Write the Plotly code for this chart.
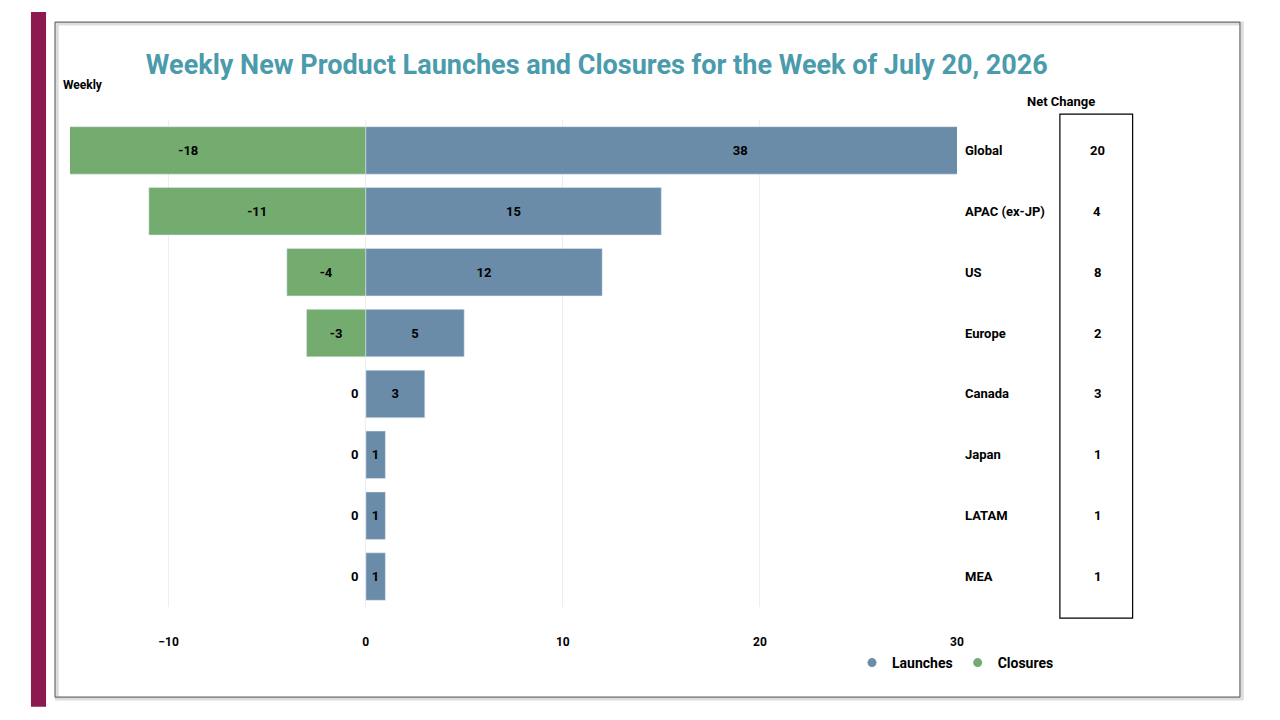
import plotly.graph_objects as go

regions = ["Global", "APAC (ex-JP)", "US", "Europe", "Canada", "Japan", "LATAM", "MEA"]
launches = [38, 15, 12, 5, 3, 1, 1, 1]
closures = [-18, -11, -4, -3, 0, 0, 0, 0]
net_change = [20, 4, 8, 2, 3, 1, 1, 1]

font = "Roboto"
blue, green = "#6b8ca8", "#74ac70"
fig = go.Figure()
fig.add_trace(go.Bar(y=regions, x=launches, orientation="h", name="Launches", showlegend=False,
                     marker_color=blue, text=[str(v) for v in launches],
                     textposition="inside", insidetextanchor="middle",
                     textfont=dict(color="black", size=13, family=font, weight="bold"), width=0.78))
fig.add_trace(go.Bar(y=regions, x=closures, orientation="h", name="Closures", showlegend=False,
                     marker_color=green, text=[str(v) if v else "" for v in closures],
                     textposition="inside", insidetextanchor="middle",
                     textfont=dict(color="black", size=13, family=font, weight="bold"), width=0.78))
# legend entries with round markers
for name, col in [("Launches", blue), ("Closures", green)]:
    fig.add_trace(go.Scatter(x=[None], y=[None], mode="markers", name="<b>%s</b>" % name,
                             marker=dict(color=col, size=9, symbol="circle")))

for r, c in zip(regions, closures):
    if c == 0:
        fig.add_annotation(x=0, y=r, text="<b>0</b>", showarrow=False, xanchor="right",
                           xshift=-6, font=dict(size=13, color="black", family=font))
for r, n in zip(regions, net_change):
    fig.add_annotation(x=1.0068, xref="paper", y=r, text="<b>%s</b>" % r, showarrow=False,
                       xanchor="left", font=dict(size=13, color="black", family=font))
    fig.add_annotation(x=1.158, xref="paper", y=r, text="<b>%d</b>" % n, showarrow=False,
                       xanchor="center", font=dict(size=13, color="black", family=font))

fig.add_annotation(x=1.158, y=1.058, xref="paper", yref="paper", text="<b>Net Change</b>",
                   showarrow=False, font=dict(size=13, color="black", family=font))
fig.add_annotation(x=-0.01, y=1.091, xref="paper", yref="paper", text="<b>Weekly</b>",
                   showarrow=False, xanchor="left", font=dict(size=12, color="black", family=font))

# frame, net-change box, purple side bar
fig.add_shape(type="rect", xref="paper", yref="paper", x0=-0.0149, x1=1.321, y0=-0.188, y1=1.198,
              line=dict(color="#dddddd", width=4), layer="below")
fig.add_shape(type="rect", xref="paper", yref="paper", x0=-0.0169, x1=1.319, y0=-0.185, y1=1.201,
              line=dict(color="#555555", width=1))
fig.add_shape(type="rect", xref="paper", yref="paper", x0=1.116, x1=1.198, y0=-0.023, y1=1.012,
              line=dict(color="black", width=1.2))
fig.add_shape(type="rect", xref="paper", yref="paper", x0=-0.044, x1=-0.027, y0=-0.205, y1=1.222,
              line_width=0, fillcolor="#8a1a50")

fig.update_layout(
    width=1280, height=720, barmode="overlay", plot_bgcolor="white", paper_bgcolor="white",
    margin=dict(l=62, r=331, t=112, b=121),
    title=dict(text="<b>Weekly New Product Launches and Closures for the Week of July 20, 2026</b>",
               x=0.46, xanchor="center", y=0.921, yanchor="middle",
               font=dict(size=27, color="#4a9bab", family=font)),
    xaxis=dict(range=[-15, 30], tickvals=[-10, 0, 10, 20, 30], showgrid=True, gridcolor="#eeeeee",
               zeroline=False, ticks="outside", ticklen=24, tickcolor="rgba(0,0,0,0)",
               tickfont=dict(size=12, color="black", family=font, weight="bold")),
    yaxis=dict(autorange="reversed", showticklabels=False, showgrid=False),
    legend=dict(orientation="h", x=1.115, xanchor="right", y=-0.115, yanchor="middle",
                itemwidth=30, tracegroupgap=0,
                font=dict(size=14, color="black", family=font)),
)
fig.write_html("out.html")
